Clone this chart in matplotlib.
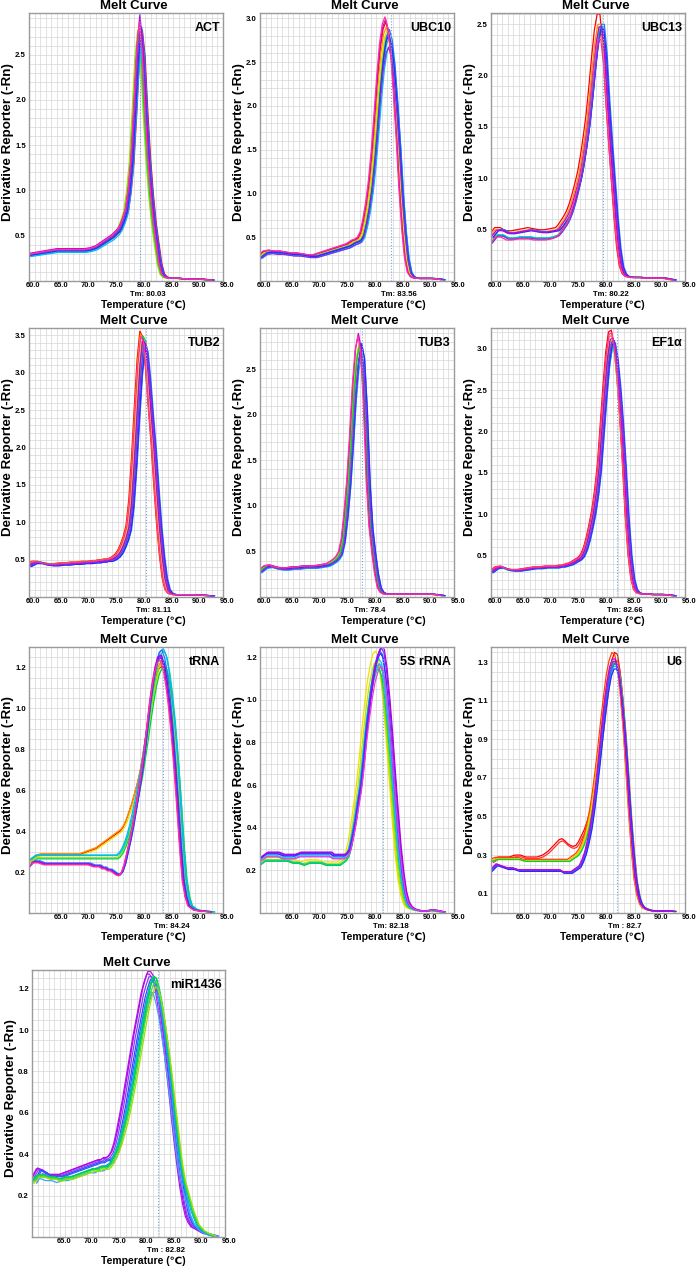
import numpy as np
import matplotlib
matplotlib.use('Agg')
import matplotlib.pyplot as plt
from matplotlib.ticker import MultipleLocator, FixedLocator, FormatStrFormatter
from matplotlib.transforms import ScaledTranslation

plt.rcParams['font.family'] = ['Liberation Sans', 'DejaVu Sans']
plt.rcParams['font.weight'] = 'bold'

# temperature grid shared by every melt curve (deg C)
temps = [60, 61, 62, 63, 64, 65, 66, 67, 68, 69, 70, 71, 72,
         72.5, 73, 73.5, 74, 74.5, 75, 75.5, 76, 76.5, 77, 77.5, 78, 78.5, 79, 79.5, 80, 80.5, 81, 81.5,
         82, 82.5, 83, 83.5, 84, 84.5, 85, 85.5, 86, 86.5, 87, 87.5, 88, 88.5, 89,
         90, 91, 92, 93]

# ---- base curves (-Rn derivative) ----
act_a = [.29, .30, .31, .32, .33, .34, .34, .34, .34, .34, .34, .35, .37,
         .39, .41, .43, .45, .47, .49, .52, .55, .60, .68, .78, 1.00, 1.33, 1.88, 2.48, 2.80, 2.50, 1.88, 1.36,
         .96, .65, .42, .20, .08, .045, .035, .03, .03, .03, .03, .025, .025, .025, .02,
         .02, .02, .015, .01]

ubc10_a = [.28, .33, .34, .33, .33, .32, .31, .31, .30, .29, .29, .31, .33,
           .34, .35, .36, .37, .38, .39, .40, .41, .43, .45, .46, .48, .54, .68, .86, 1.10, 1.42, 1.82, 2.25,
           2.60, 2.82, 2.90, 2.78, 2.50, 2.08, 1.58, 1.02, .58, .26, .10, .05, .035, .03, .03,
           .03, .03, .025, .015]

ubc13_a = [.43, .50, .50, .47, .47, .48, .49, .50, .49, .48, .48, .49, .50,
           .53, .57, .61, .66, .73, .82, .92, 1.03, 1.18, 1.36, 1.56, 1.82, 2.10, 2.35, 2.50, 2.50, 2.22, 1.75, 1.35,
           .98, .62, .32, .14, .07, .045, .04, .035, .035, .035, .035, .03, .03, .03, .03,
           .03, .03, .02, .01]
ubc13_b = [.38, .45, .45, .42, .42, .43, .43, .43, .42, .42, .42, .43, .45,
           .48, .52, .56, .61, .68, .77, .88, 1.00, 1.14, 1.32, 1.52, 1.78, 2.06, 2.32, 2.47, 2.48, 2.22, 1.76, 1.36,
           .99, .63, .33, .14, .07, .045, .04, .035, .035, .035, .035, .03, .03, .03, .03,
           .03, .03, .02, .01]

tub2_a = [.42, .46, .46, .44, .43, .43, .44, .44, .45, .45, .46, .46, .47,
          .47, .48, .48, .49, .49, .50, .52, .55, .60, .68, .78, .92, 1.25, 1.80, 2.45, 3.05, 3.42, 3.35, 2.95,
          2.45, 2.00, 1.45, .95, .55, .25, .10, .05, .035, .03, .03, .03, .03, .03, .03,
          .03, .025, .02, .015]

tub3_a = [.28, .33, .34, .32, .31, .31, .32, .32, .33, .33, .33, .34, .35,
          .36, .38, .40, .43, .48, .62, .90, 1.25, 1.72, 2.25, 2.62, 2.78, 2.62, 2.05, 1.25, .75, .48, .25, .10,
          .05, .035, .03, .03, .03, .03, .03, .03, .03, .03, .03, .03, .03, .03, .03,
          .03, .03, .025, .015]

ef1a_a = [.30, .35, .36, .33, .32, .32, .33, .34, .35, .35, .36, .36, .36,
          .37, .37, .38, .39, .40, .42, .44, .46, .50, .58, .70, .85, 1.02, 1.25, 1.55, 2.00, 2.45, 2.85, 3.08,
          3.10, 2.90, 2.55, 2.10, 1.55, .95, .50, .22, .09, .05, .04, .035, .035, .035, .03,
          .03, .03, .025, .015]

trna_warm = [.26, .28, .29, .29, .29, .29, .29, .29, .29, .29, .30, .31, .32,
             .33, .34, .35, .36, .37, .38, .39, .40, .41, .43, .46, .50, .54, .59, .64, .70, .78, .87, .96,
             1.05, 1.13, 1.19, 1.22, 1.23, 1.20, 1.13, 1.03, .90, .74, .55, .34, .17, .08, .035,
             .015, .01, .008, .005]
trna_mid = [.25, .27, .27, .27, .27, .27, .27, .27, .27, .27, .27, .27, .27,
            .27, .27, .27, .27, .27, .27, .27, .28, .30, .33, .37, .42, .48, .54, .61, .68, .77, .86, .96,
            1.05, 1.13, 1.19, 1.22, 1.23, 1.20, 1.13, 1.03, .90, .74, .55, .34, .17, .08, .035,
            .015, .01, .008, .005]
trna_cool = [.22, .25, .25, .24, .24, .24, .24, .24, .24, .24, .24, .24, .23,
             .23, .23, .22, .22, .21, .21, .20, .19, .185, .20, .24, .30, .36, .43, .51, .59, .68, .78, .90,
             1.02, 1.12, 1.20, 1.25, 1.26, 1.22, 1.14, 1.03, .89, .72, .53, .33, .16, .08, .035,
             .015, .01, .008, .005]

rrna_cool = [.26, .28, .28, .28, .27, .27, .27, .28, .28, .28, .28, .28, .28,
             .28, .27, .27, .27, .27, .27, .28, .30, .36, .43, .52, .60, .72, .86, .97, 1.07, 1.15, 1.20, 1.23,
             1.21, 1.12, .98, .82, .64, .47, .31, .19, .10, .05, .03, .02, .015, .012, .01,
             .01, .015, .01, .005]
rrna_warm = [.23, .25, .25, .25, .25, .25, .24, .24, .23, .24, .24, .24, .23,
             .23, .23, .23, .23, .23, .24, .25, .27, .32, .40, .49, .58, .70, .83, .95, 1.05, 1.12, 1.17, 1.18,
             1.14, 1.04, .90, .74, .57, .40, .26, .15, .08, .04, .025, .02, .015, .012, .01,
             .01, .012, .008, .005]

u6_red = [.27, .29, .29, .29, .30, .30, .29, .29, .29, .30, .32, .35, .38,
          .385, .375, .36, .35, .345, .35, .37, .40, .43, .47, .52, .58, .66, .76, .88, 1.00, 1.12, 1.23, 1.31,
          1.35, 1.34, 1.25, 1.10, .92, .70, .48, .30, .16, .08, .04, .025, .02, .015, .012,
          .01, .01, .01, .008]
u6_mid = [.27, .28, .28, .28, .28, .28, .27, .27, .27, .27, .27, .27, .27,
          .27, .27, .27, .27, .28, .29, .30, .32, .35, .39, .45, .52, .61, .72, .84, .97, 1.09, 1.20, 1.27,
          1.31, 1.30, 1.24, 1.11, .94, .73, .51, .32, .17, .09, .045, .025, .02, .015, .012,
          .01, .01, .01, .008]
u6_cool = [.22, .25, .24, .23, .23, .22, .22, .22, .22, .22, .22, .22, .22,
           .22, .21, .21, .21, .21, .22, .23, .24, .27, .31, .37, .44, .54, .66, .79, .93, 1.06, 1.17, 1.25,
           1.29, 1.29, 1.24, 1.12, .96, .76, .54, .35, .19, .10, .05, .03, .02, .015, .012,
           .01, .01, .01, .008]

mir_purple = [.28, .33, .32, .30, .30, .30, .31, .32, .33, .34, .35, .36, .37,
              .37, .38, .38, .39, .41, .45, .51, .58, .65, .73, .81, .89, .97, 1.04, 1.11, 1.18, 1.23, 1.27, 1.27,
              1.25, 1.20, 1.12, 1.03, .93, .82, .70, .57, .45, .34, .24, .16, .10, .07, .05,
              .035, .02, .012, .005]
mir_green = [.27, .30, .30, .29, .29, .28, .29, .29, .30, .31, .32, .33, .33,
             .34, .34, .34, .35, .37, .40, .43, .47, .52, .57, .63, .70, .77, .85, .93, 1.01, 1.09, 1.16, 1.22,
             1.26, 1.25, 1.20, 1.13, 1.04, .94, .83, .71, .59, .47, .36, .28, .23, .18, .13,
             .06, .03, .015, .005]

# ---- individual wells: (colour, base curve, temperature shift, height factor) ----
act_traces = [('#ff0000', 0, 0.45, 0.99), ('#ff8c00', 0, 0.20, 1.00), ('#e8e000', 0, -0.30, 0.97),
              ('#9be000', 0, -0.40, 0.99), ('#00d040', 0, -0.20, 0.98), ('#00d0a0', 0, 0.00, 0.95),
              ('#00b8ff', 0, 0.30, 0.93), ('#2070ff', 0, 0.35, 1.00), ('#2a2aff', 0, 0.20, 0.98),
              ('#8a2be2', 0, 0.10, 1.01), ('#c000e0', 0, 0.00, 1.05), ('#ff3399', 0, -0.10, 1.02)]
ubc10_traces = [('#ff0000', 0, -0.30, 1.02), ('#ff8c00', 0, -0.20, 1.00), ('#e8e000', 0, 0.00, 0.99),
                ('#9be000', 0, 0.10, 0.98), ('#00d040', 0, 0.20, 0.97), ('#00d0a0', 0, 0.35, 0.96),
                ('#00b8ff', 0, 0.45, 0.93), ('#2070ff', 0, 0.35, 0.99), ('#2a2aff', 0, 0.25, 0.97),
                ('#8a2be2', 0, 0.20, 0.92), ('#c000e0', 0, -0.35, 1.03), ('#ff3399', 0, -0.45, 1.04)]
ubc13_traces = [('#ff0000', 0, -0.35, 1.04), ('#ff8c00', 0, -0.20, 1.00), ('#e8e000', 0, 0.00, 0.99),
                ('#9be000', 1, 0.00, 0.99), ('#00d040', 1, 0.10, 0.98), ('#00d0a0', 1, 0.20, 1.00),
                ('#00b8ff', 1, 0.30, 0.99), ('#2070ff', 0, 0.45, 1.00), ('#2a2aff', 0, 0.35, 0.98),
                ('#8a2be2', 1, 0.20, 0.97), ('#c000e0', 0, 0.00, 0.99), ('#ff3399', 1, -0.20, 0.95)]
tub2_traces = [('#ff0000', 0, -0.50, 1.04), ('#ff8c00', 0, -0.40, 1.03), ('#e8e000', 0, -0.20, 1.00),
               ('#9be000', 0, 0.00, 1.01), ('#00d040', 0, 0.10, 1.02), ('#00d0a0', 0, 0.25, 0.99),
               ('#00b8ff', 0, 0.40, 0.98), ('#2070ff', 0, 0.50, 0.98), ('#2a2aff', 0, 0.40, 0.97),
               ('#8a2be2', 0, 0.25, 1.00), ('#c000e0', 0, 0.00, 1.01), ('#ff3399', 0, -0.35, 1.02)]
tub3_traces = [('#ff0000', 0, 0.00, 1.00), ('#ff8c00', 0, -0.10, 1.00), ('#e8e000', 0, -0.20, 0.99),
               ('#9be000', 0, -0.20, 0.98), ('#00d040', 0, 0.00, 1.00), ('#00d0a0', 0, 0.20, 0.97),
               ('#00b8ff', 0, 0.35, 0.95), ('#2070ff', 0, 0.40, 0.99), ('#2a2aff', 0, 0.35, 1.00),
               ('#8a2be2', 0, 0.20, 0.97), ('#c000e0', 0, -0.25, 1.04), ('#ff3399', 0, -0.35, 1.03)]
ef1a_traces = [('#ff0000', 0, -0.30, 1.04), ('#ff8c00', 0, -0.20, 1.02), ('#e8e000', 0, -0.10, 1.00),
               ('#9be000', 0, -0.10, 1.00), ('#00d040', 0, 0.00, 0.99), ('#00d0a0', 0, 0.20, 0.98),
               ('#00b8ff', 0, 0.35, 0.97), ('#2070ff', 0, 0.45, 0.99), ('#2a2aff', 0, 0.35, 0.99),
               ('#8a2be2', 0, 0.25, 1.00), ('#c000e0', 0, 0.00, 1.01), ('#ff3399', 0, -0.20, 1.03)]
trna_traces = [('#ff0000', 0, 0.00, 0.98), ('#ff8c00', 0, 0.10, 1.00), ('#e8e000', 0, 0.20, 0.97),
               ('#9be000', 1, 0.35, 1.00), ('#00d040', 1, 0.50, 0.98), ('#00d0a0', 1, 0.40, 1.04),
               ('#00b8ff', 1, 0.25, 1.05), ('#2070ff', 2, 0.00, 1.02), ('#2a2aff', 2, -0.10, 1.00),
               ('#8a2be2', 2, -0.20, 0.99), ('#c000e0', 2, -0.30, 1.00), ('#ff3399', 2, -0.35, 0.98)]
rrna_traces = [('#f0e000', 1, -0.60, 1.04), ('#c8e000', 1, -0.40, 1.00), ('#7fe000', 1, -0.20, 0.98),
               ('#00d040', 1, 0.00, 0.97), ('#00d0a0', 1, 0.10, 0.99), ('#00c8ff', 0, -0.10, 0.97),
               ('#3fa0ff', 0, 0.00, 0.95), ('#2060ff', 0, 0.10, 1.00), ('#3030ff', 0, 0.20, 0.99),
               ('#7a20ff', 0, 0.35, 1.01), ('#b000e0', 0, 0.45, 1.02), ('#e040e0', 0, 0.25, 0.94)]
u6_traces = [('#ff0000', 0, 0.30, 1.00), ('#ff3030', 0, 0.45, 0.97), ('#ff4000', 1, -0.20, 1.03),
             ('#ff8c00', 1, -0.10, 1.00), ('#e8e000', 1, 0.00, 1.00), ('#9be000', 1, 0.15, 0.99),
             ('#00d040', 1, 0.25, 0.99), ('#00d0a0', 2, 0.20, 1.00), ('#00b8ff', 2, 0.10, 0.99),
             ('#2070ff', 2, 0.10, 1.00), ('#2a2aff', 2, 0.20, 0.98), ('#8a2be2', 2, 0.00, 1.01),
             ('#c000e0', 2, -0.10, 1.02)]
mir_traces = [('#a020f0', 0, -0.20, 1.00), ('#c000e0', 0, 0.00, 1.01), ('#8040ff', 0, 0.20, 0.99),
              ('#4040ff', 0, 0.50, 0.98), ('#2060ff', 0, 0.70, 0.97), ('#5080ff', 0, 0.85, 0.93),
              ('#3fa0ff', 1, -0.50, 0.94), ('#00b0e0', 1, -0.20, 0.99), ('#00d0a0', 1, 0.00, 1.00),
              ('#00d040', 1, 0.10, 1.00), ('#40e040', 1, 0.20, 0.98), ('#9de000', 1, 0.35, 0.96)]

genes = ['ACT', 'UBC10', 'UBC13', 'TUB2', 'TUB3', 'EF1α', 'tRNA', '5S rRNA', 'U6', 'miR1436']
tm_values = [80.03, 83.56, 80.22, 81.11, 78.4, 82.66, 84.24, 82.18, 82.7, 82.82]
tm_labels = ['Tm: 80.03', 'Tm: 83.56', 'Tm: 80.22', 'Tm: 81.11', 'Tm: 78.4', 'Tm: 82.66',
             'Tm: 84.24', 'Tm: 82.18', 'Tm : 82.7', 'Tm : 82.82']
y_tops = [2.96, 3.06, 2.61, 3.6, 2.95, 3.25, 1.30, 1.247, 1.378, 1.29]
y_ticks = [[0.5, 1.0, 1.5, 2.0, 2.5], [0.5, 1.0, 1.5, 2.0, 2.5, 3.0], [0.5, 1.0, 1.5, 2.0, 2.5],
           [0.5, 1.0, 1.5, 2.0, 2.5, 3.0, 3.5], [0.5, 1.0, 1.5, 2.0, 2.5], [0.5, 1.0, 1.5, 2.0, 2.5, 3.0],
           [0.2, 0.4, 0.6, 0.8, 1.0, 1.2], [0.2, 0.4, 0.6, 0.8, 1.0, 1.2],
           [0.1, 0.3, 0.5, 0.7, 0.9, 1.1, 1.3], [0.2, 0.4, 0.6, 0.8, 1.0, 1.2]]

panel_bases = [[act_a], [ubc10_a], [ubc13_a, ubc13_b], [tub2_a], [tub3_a], [ef1a_a],
               [trna_warm, trna_mid, trna_cool], [rrna_cool, rrna_warm], [u6_red, u6_mid, u6_cool],
               [mir_purple, mir_green]]
panel_traces = [act_traces, ubc10_traces, ubc13_traces, tub2_traces, tub3_traces, ef1a_traces,
                trna_traces, rrna_traces, u6_traces, mir_traces]

# layout in pixels
W, H = 697, 1267
col_left = [29, 260, 491]
row_top = [13, 328, 647, 970]
row_h = [268, 269, 266, 267]
xlabel_x = [143, 383, 602]

fig = plt.figure(figsize=(W / 100, H / 100), dpi=100)
t = np.array(temps)
shift = ScaledTranslation(4 / 100, 0, fig.dpi_scale_trans)

for i, gene in enumerate(genes):
    r, c = divmod(i, 3)
    left = col_left[c] + (3 if r == 3 else 0)
    width = 193 if r == 3 else 194
    top, h = row_top[r], row_h[r]
    ax = fig.add_axes([left / W, 1 - (top + h) / H, width / W, h / H])

    bases = panel_bases[i]
    for color, b, dx, s in panel_traces[i]:
        ax.plot(t + dx, np.array(bases[b]) * s, color=color, lw=0.9, zorder=2)

    ax.axvline(tm_values[i], color='#7aa6dc', lw=0.8, ls=':', zorder=3)

    ax.set_xlim(60, 95)
    ax.set_ylim(0, y_tops[i])
    ax.xaxis.set_major_locator(FixedLocator([60, 65, 70, 75, 80, 85, 90, 95] if r < 2
                                            else [65, 70, 75, 80, 85, 90, 95]))
    ax.xaxis.set_minor_locator(MultipleLocator(1))
    ax.xaxis.set_major_formatter(FormatStrFormatter('%.1f'))
    ax.yaxis.set_major_locator(FixedLocator(y_ticks[i]))
    ax.yaxis.set_minor_locator(MultipleLocator(0.1 if r < 2 else 0.05))
    ax.yaxis.set_major_formatter(FormatStrFormatter('%.1f'))
    ax.tick_params(which='both', length=0)
    ax.tick_params(axis='x', pad=0.8, labelsize=5.4)
    ax.tick_params(axis='y', pad=2.2, labelsize=5.6)
    for lab in ax.get_xticklabels():
        lab.set_transform(lab.get_transform() + shift)
    ax.grid(which='both', color='#d6d6d6', lw=0.5)
    ax.set_axisbelow(True)
    for sp in ax.spines.values():
        sp.set_color('#9a9a9a')
        sp.set_linewidth(1.0)

    ax.text(0.985, 0.965, gene, transform=ax.transAxes, ha='right', va='top',
            fontsize=9, fontweight='bold', zorder=4)
    ax.annotate(tm_labels[i], xy=(tm_values[i], 0), xycoords=('data', 'axes fraction'),
                xytext=(8, -13), textcoords='offset pixels', ha='center', va='center',
                fontsize=5.6, fontweight='bold', annotation_clip=False)

    cx = left + width / 2
    fig.text((cx + 8) / W, 1 - (top - 7) / H, 'Melt Curve', ha='center', va='center',
             fontsize=9.5, fontweight='bold')
    fig.text((left - 21) / W, 1 - (top + h / 2 - 5) / H, 'Derivative Reporter (-Rn)',
             rotation=90, ha='center', va='center', fontsize=9.6, fontweight='bold')
    fig.text(xlabel_x[c] / W, 1 - (top + h + 24) / H, 'Temperature (℃)', ha='center', va='center',
             fontsize=7.5, fontweight='bold')

fig.savefig('out.png', dpi=100, facecolor='white')
